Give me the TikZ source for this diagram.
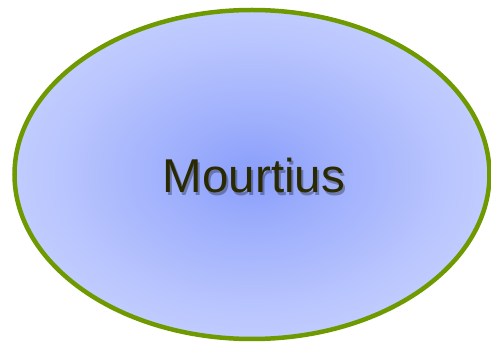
\documentclass[tikz,border=0pt]{standalone}
\usepackage{fontspec}
\setmainfont{Liberation Sans}
\usepackage{tikz}
\usetikzlibrary{shapes.geometric, positioning, calc}
\usepackage{xcolor}

\definecolor{blobcenter}{HTML}{8A9EFB}
\definecolor{blobedge}{HTML}{CCD5FF}
\definecolor{blobline}{HTML}{6E9A00}
\definecolor{labeltext}{HTML}{2A2A00}
\pgfdeclareradialshading{blobshade}{\pgfpoint{0bp}{0bp}}{%
  color(0bp)=(blobcenter); color(8bp)=(blobcenter!70!blobedge);
  color(20bp)=(blobcenter!30!blobedge);
  color(32bp)=(blobedge); color(50bp)=(blobedge)}

\begin{document}
\begin{tikzpicture}[x=1pt, y=1pt,
  blob/.style={draw=blobline, line width=4.5pt, shading=blobshade},
  label/.style={font=\fontsize{47.5}{48}\selectfont, text=labeltext, anchor=base, inner sep=0pt},
  shadow/.style={label, text=black, opacity=0.3}]
  \useasboundingbox (0,0) rectangle (491,343);
  \coordinate (c) at (252,168.5);
  \path[blob] (c) ellipse [x radius=237.5, y radius=164.5];
  \node[shadow] (s) at ($(c)+(4,-21)$) {Mourtius};
  \node[label] (m) at ($(c)+(2,-18.5)$) {Mourtius};
\end{tikzpicture}
\end{document}
